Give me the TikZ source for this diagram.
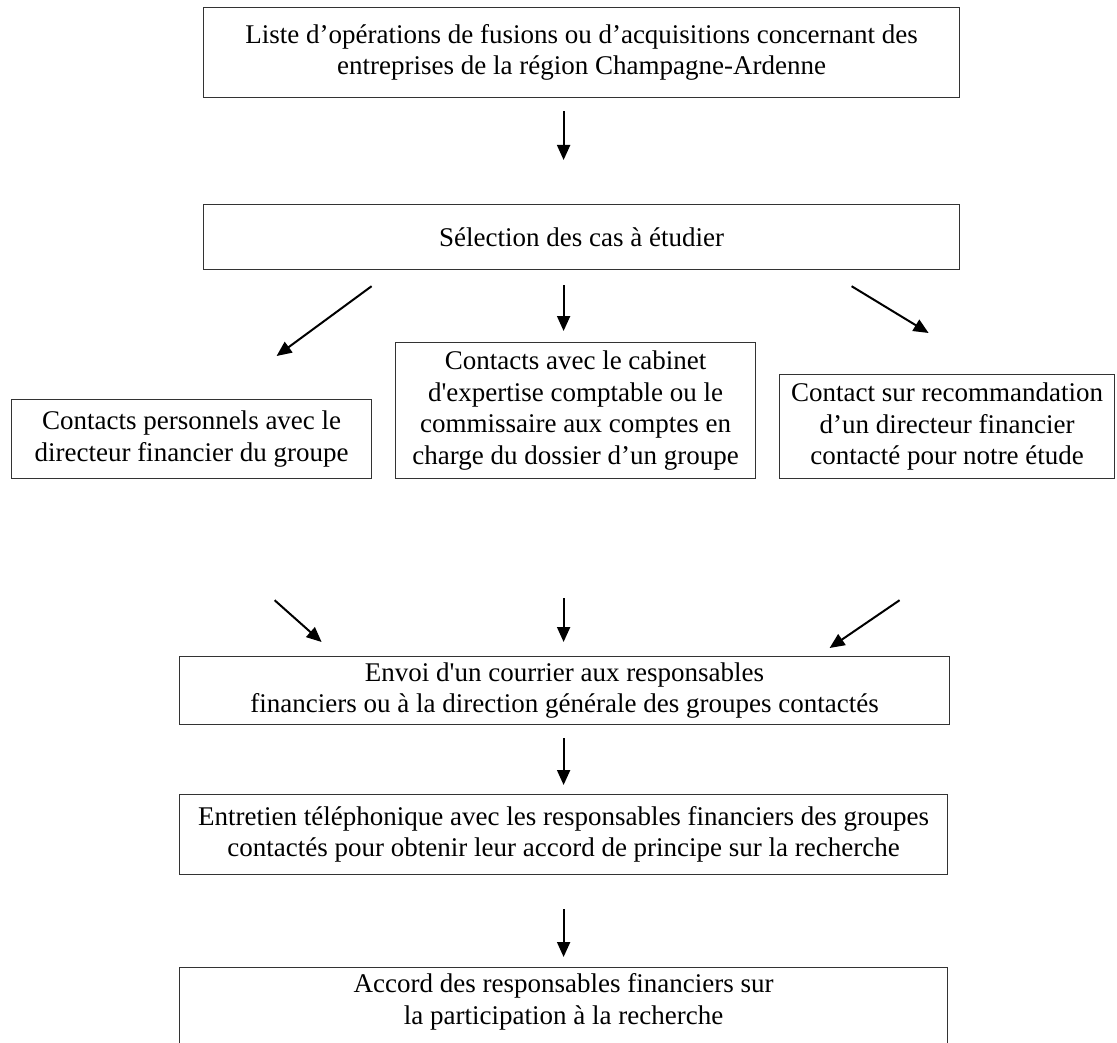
\documentclass[tikz,border=0pt]{standalone}
\usepackage{fontspec}
\setmainfont{Liberation Serif}
\usetikzlibrary{arrows.meta,calc}
\begin{document}
\begin{tikzpicture}[x=1pt,y=-1pt,
  stage/.style={draw=black!80, line width=1.2pt, inner sep=0pt, anchor=north west,
    align=center, font=\fontsize{27}{31.5}\selectfont},
  arr/.style={line width=2pt, -{Triangle[length=15pt,width=13pt]}}]
\useasboundingbox (0,0) rectangle (1117,1043);

% boxes: top-left corner, width, height
\node[stage, minimum width=756pt, minimum height=90pt] (liste) at (203,7)
  {Liste d’opérations de fusions ou d’acquisitions concernant des\\
   entreprises de la région Champagne-Ardenne};
\node[stage, minimum width=756pt, minimum height=65pt] (select) at (203,204)
  {Sélection des cas à étudier};
\node[stage, minimum width=360pt, minimum height=79pt] (perso) at (11,399)
  {Contacts personnels avec le\\ directeur financier du groupe};
\node[stage, minimum width=360pt, minimum height=136pt] (cabinet) at (395,342)
  {Contacts avec le cabinet\\ d\textquotesingle expertise comptable ou le\\
   commissaire aux comptes en\\ charge du dossier d’un groupe};
\node[stage, minimum width=335pt, minimum height=104pt] (recom) at (779,374)
  {Contact sur recommandation\\ d’un directeur financier\\ contacté pour notre étude};
\node[stage, minimum width=770pt, minimum height=68pt] (envoi) at (179,656)
  {Envoi d\textquotesingle un courrier aux responsables\\
   financiers ou à la direction générale des groupes contactés};
\node[stage, minimum width=768pt, minimum height=80pt] (entretien) at (179,794)
  {Entretien téléphonique avec les responsables financiers des groupes\\
   contactés pour obtenir leur accord de principe sur la recherche};
% the last box runs past the lower edge of the page
\node[stage, minimum width=768pt, inner ysep=6pt] (accord) at (179,967)
  {Accord des responsables financiers sur\\
   la participation à la recherche\\[31pt]\mbox{}};

% arrows between the stages
\draw[arr] ($(liste.south)+(-18,13)$) -- ($(select.north)+(-18,-44)$);
\draw[arr] ($(select.south)+(-210,16)$) -- ($(perso.north)+(85,-43)$);
\draw[arr] ($(select.south)+(-18,15)$) -- ($(cabinet.north)+(-12,-11)$);
\draw[arr] ($(select.south)+(270,16)$) -- ($(recom.north)+(-18.5,-41)$);
\draw[arr] ($(perso.south)+(83,121)$) -- ($(envoi.north)+(-243,-14)$);
\draw[arr] ($(cabinet.south)+(-12,119)$) -- ($(envoi.north)+(-1,-14)$);
\draw[arr] ($(recom.south)+(-47.5,121)$) -- ($(envoi.north)+(265,-8)$);
\draw[arr] ($(envoi.south)+(-1,13)$) -- ($(entretien.north)+(0,-9)$);
\draw[arr] ($(entretien.south)+(0,34)$) -- ($(accord.north)+(0,-10)$);
\end{tikzpicture}
\end{document}
